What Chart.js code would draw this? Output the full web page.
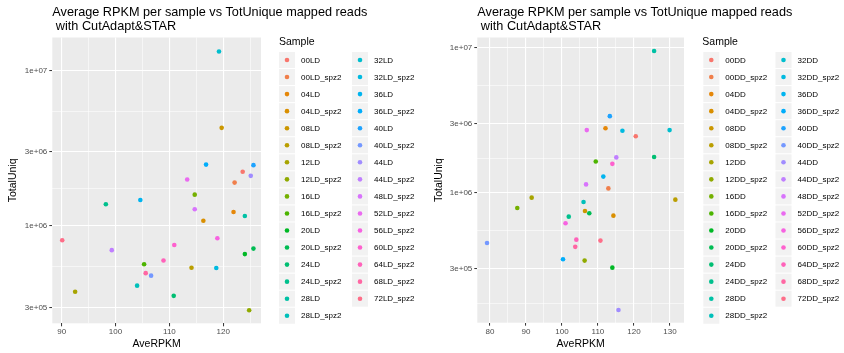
<!DOCTYPE html>
<html>
<head>
<meta charset="utf-8">
<script src="https://cdn.jsdelivr.net/npm/chart.js@4.4.1/dist/chart.umd.min.js"></script>
<style>
  body { margin: 0; background: #fff; }
  #wrap { display: flex; width: 844px; height: 353px; }
  canvas { display: block; }
</style>
</head>
<body>
<div id="wrap">
  <canvas id="ld" width="422" height="353"></canvas>
  <canvas id="dd" width="422" height="353"></canvas>
</div>
<script>
// --- data ---
const samplesLD = ['00LD', '00LD_spz2', '04LD', '04LD_spz2', '08LD', '08LD_spz2', '12LD', '12LD_spz2',
  '16LD', '16LD_spz2', '20LD', '20LD_spz2', '24LD', '24LD_spz2', '28LD', '28LD_spz2',
  '32LD', '32LD_spz2', '36LD', '36LD_spz2', '40LD', '40LD_spz2', '44LD', '44LD_spz2',
  '48LD_spz2', '52LD_spz2', '56LD_spz2', '60LD_spz2', '64LD_spz2', '68LD_spz2', '72LD_spz2'];
const rpkmLD = [123.6, 122.1, 121.9, 116.3, 119.7, 114.1, 92.5, 124.8,
  114.7, 105.3, 124.0, 125.6, 110.8, 98.2, 124.0, 104.0,
  119.2, 118.7, 104.6, 116.8, 125.6, 106.6, 125.1, 99.3,
  114.7, 113.3, 118.9, 110.9, 108.9, 105.6, 90.1];
const uniqLD = [2.23e6, 1.9e6, 1.23e6, 1.08e6, 4.27e6, 5.4e5, 3.78e5, 2.88e5,
  1.59e6, 5.68e5, 6.6e5, 7.16e5, 3.56e5, 1.38e6, 1.16e6, 4.14e5,
  1.32e7, 5.38e5, 1.47e6, 2.48e6, 2.46e6, 4.8e5, 2.1e6, 7.0e5,
  1.28e6, 1.99e6, 8.35e5, 7.55e5, 6.0e5, 4.98e5, 8.1e5];

const samplesDD = ['00DD', '00DD_spz2', '04DD', '04DD_spz2', '08DD', '08DD_spz2', '12DD', '12DD_spz2',
  '16DD', '16DD_spz2', '20DD', '20DD_spz2', '24DD', '24DD_spz2', '28DD', '28DD_spz2',
  '32DD', '32DD_spz2', '36DD', '36DD_spz2', '40DD', '40DD_spz2', '44DD', '44DD_spz2',
  '48DD_spz2', '52DD_spz2', '56DD_spz2', '60DD_spz2', '64DD_spz2', '68DD_spz2', '72DD_spz2'];
const rpkmDD = [120.5, 112.9, 112.1, 114.3, 106.4, 131.5, 91.6, 106.3,
  87.6, 109.4, 114.0, 107.6, 125.6, 101.9, 125.6, 106.0,
  129.9, 116.8, 111.5, 100.3, 113.3, 79.2, 115.7, 115.1,
  106.7, 106.9, 101.0, 114.0, 104.0, 103.7, 110.7];
const uniqDD = [2.45e6, 1.07e6, 2.78e6, 6.94e5, 7.48e5, 8.95e5, 9.24e5, 3.4e5,
  7.84e5, 1.64e6, 3.04e5, 7.21e5, 1.76e6, 6.83e5, 9.49e6, 8.63e5,
  2.7e6, 2.67e6, 1.29e6, 3.47e5, 3.37e6, 4.5e5, 1.55e5, 1.75e6,
  1.14e6, 2.7e6, 6.15e5, 1.58e6, 4.74e5, 4.23e5, 4.67e5];

// axis breaks (majors get labels, the in-between ones are minor grid lines)
const yBreaks = [1e5, 3e5, 1e6, 3e6, 1e7, 3e7];
const yBreakLabels = ['1e+05', '3e+05', '1e+06', '3e+06', '1e+07', '3e+07'];
const xBreaks = [70, 80, 90, 100, 110, 120, 130, 140];

const titleLines = ['Average RPKM per sample vs TotUnique mapped reads', ' with CutAdapt&STAR'];
const FONT = '"Liberation Sans", Arial, Helvetica, sans-serif';

// ggplot2 hue palette: hcl(h, c=100, l=65)
function hcl(h, c, l) {
  const r = h * Math.PI / 180;
  const u = c * Math.cos(r), v = c * Math.sin(r);
  const Xn = 95.047, Yn = 100, Zn = 108.883;
  const d = Xn + 15 * Yn + 3 * Zn;
  const un = 4 * Xn / d, vn = 9 * Yn / d;
  const Y = Yn * Math.pow((l + 16) / 116, 3);
  const up = u / (13 * l) + un, vp = v / (13 * l) + vn;
  const X = Y * 9 * up / (4 * vp);
  const Z = Y * (12 - 3 * up - 20 * vp) / (4 * vp);
  const x = X / 100, y = Y / 100, z = Z / 100;
  const lin = [
    3.240479 * x - 1.537150 * y - 0.498535 * z,
    -0.969256 * x + 1.875992 * y + 0.041556 * z,
    0.055648 * x - 0.204043 * y + 1.057311 * z
  ];
  const hex = lin.map(t => {
    t = t <= 0.0031308 ? 12.92 * t : 1.055 * Math.pow(t, 1 / 2.4) - 0.055;
    t = Math.round(Math.min(1, Math.max(0, t)) * 255);
    return t.toString(16).padStart(2, '0');
  });
  return '#' + hex.join('');
}
function huePal(n) {
  const out = [];
  for (let i = 0; i < n; i++) out.push(hcl(15 + i * 360 / n, 100, 65));
  return out;
}

function withMinors(majors, mid) {
  const out = [];
  majors.forEach((v, i) => {
    out.push({ value: v, minor: false });
    if (i < majors.length - 1) out.push({ value: mid(v, majors[i + 1]), minor: true });
  });
  return out;
}

function makePanel(id, samples, xs, ys, lay) {
  const colors = huePal(samples.length);
  const datasets = samples.map((s, i) => ({
    label: s,
    data: [{ x: xs[i], y: ys[i] }],
    backgroundColor: colors[i],
    borderWidth: 0,
    pointRadius: 2.3
  }));

  const xTicks = withMinors(xBreaks, (a, b) => (a + b) / 2).filter(t => t.value >= lay.xMin && t.value <= lay.xMax);
  const yTicks = withMinors(yBreaks, (a, b) => Math.sqrt(a * b)).filter(t => t.value >= lay.yMin && t.value <= lay.yMax);

  const gridOpts = {
    color: '#ffffff',
    lineWidth: c => (c.tick && c.tick.minor ? 0.55 : 1.1),
    tickLength: 3,
    tickWidth: 1,
    tickColor: c => (c.tick && c.tick.minor ? 'rgba(0,0,0,0)' : '#333333')
  };

  const panelPlugin = {
    id: 'ggpanel',
    beforeDraw(chart) {
      const a = chart.chartArea, ctx = chart.ctx;
      ctx.save();
      ctx.fillStyle = '#EBEBEB';
      ctx.fillRect(a.left, a.top, a.right - a.left, a.bottom - a.top);
      ctx.restore();
    },
    afterDraw(chart) {
      const a = chart.chartArea, ctx = chart.ctx;
      ctx.save();
      // title
      ctx.fillStyle = '#000';
      ctx.font = '12.7px ' + FONT;
      ctx.textBaseline = 'middle';
      ctx.textAlign = 'left';
      ctx.fillText(titleLines[0], a.left, 12.7);
      ctx.fillText(titleLines[1], a.left, 26);
      // legend
      ctx.font = '10.5px ' + FONT;
      ctx.fillText('Sample', lay.legTitleX, 42.3);
      ctx.font = '8px ' + FONT;
      samples.forEach((s, i) => {
        const col = i < 16 ? 0 : 1;
        const row = i % 16;
        const kx = col ? lay.key2X : lay.key1X;
        const cy = 60 + row * 17.05;
        ctx.fillStyle = '#F2F2F2';
        ctx.fillRect(kx, cy - 8, 16, 16);
        ctx.fillStyle = colors[i];
        ctx.beginPath();
        ctx.arc(kx + 8, cy, 2.3, 0, Math.PI * 2);
        ctx.fill();
        ctx.fillStyle = '#000';
        ctx.fillText(s, kx + 22, cy + 0.5);
      });
      ctx.restore();
    }
  };

  return new Chart(document.getElementById(id), {
    type: 'scatter',
    data: { datasets },
    options: {
      responsive: false,
      animation: false,
      events: [],
      layout: { padding: { left: 0, top: lay.top, right: lay.padRight, bottom: 0 } },
      plugins: { legend: { display: false }, tooltip: { enabled: false } },
      scales: {
        x: {
          type: 'linear',
          min: lay.xMin,
          max: lay.xMax,
          afterBuildTicks: s => { s.ticks = xTicks.map(t => ({ value: t.value, minor: t.minor })); },
          afterFit: s => { s.height = lay.xHeight; },
          ticks: {
            autoSkip: false, maxRotation: 0, padding: 1, color: '#4D4D4D',
            font: { family: FONT, size: 8 },
            callback: (v, i, t) => (t[i].minor ? '' : String(v))
          },
          grid: gridOpts,
          border: { display: false },
          title: {
            display: true, text: 'AveRPKM', color: '#000',
            font: { family: FONT, size: 10.5 }, padding: { top: 0, bottom: 2.5 }
          }
        },
        y: {
          type: 'logarithmic',
          min: lay.yMin,
          max: lay.yMax,
          afterBuildTicks: s => { s.ticks = yTicks.map(t => ({ value: t.value, minor: t.minor })); },
          afterFit: s => { s.width = lay.yWidth; },
          ticks: {
            autoSkip: false, padding: 2, color: '#4D4D4D',
            font: { family: FONT, size: 8 },
            callback: (v, i, t) => (t[i].minor ? '' : yBreakLabels[yBreaks.indexOf(t[i].value)])
          },
          grid: gridOpts,
          border: { display: false },
          title: {
            display: true, text: 'TotalUniq', color: '#000',
            font: { family: FONT, size: 10.5 }, padding: { top: lay.yTitlePad, bottom: 0 }
          }
        }
      }
    },
    plugins: [panelPlugin]
  });
}

makePanel('ld', samplesLD, rpkmLD, uniqLD, {
  xMin: 88.26, xMax: 127.0, yMin: 2.372e5, yMax: 1.625e7,
  top: 37.5, padRight: 161, xHeight: 29.7, yWidth: 52.3, yTitlePad: 7,
  legTitleX: 279, key1X: 279, key2X: 352
});
makePanel('dd', samplesDD, rpkmDD, uniqDD, {
  xMin: 76.5, xMax: 133.9, yMin: 1.268e5, yMax: 1.175e7,
  top: 37.5, padRight: 160, xHeight: 30.3, yWidth: 55.3, yTitlePad: 10.5,
  legTitleX: 280.3, key1X: 281.3, key2X: 353.5
});
</script>
</body>
</html>
